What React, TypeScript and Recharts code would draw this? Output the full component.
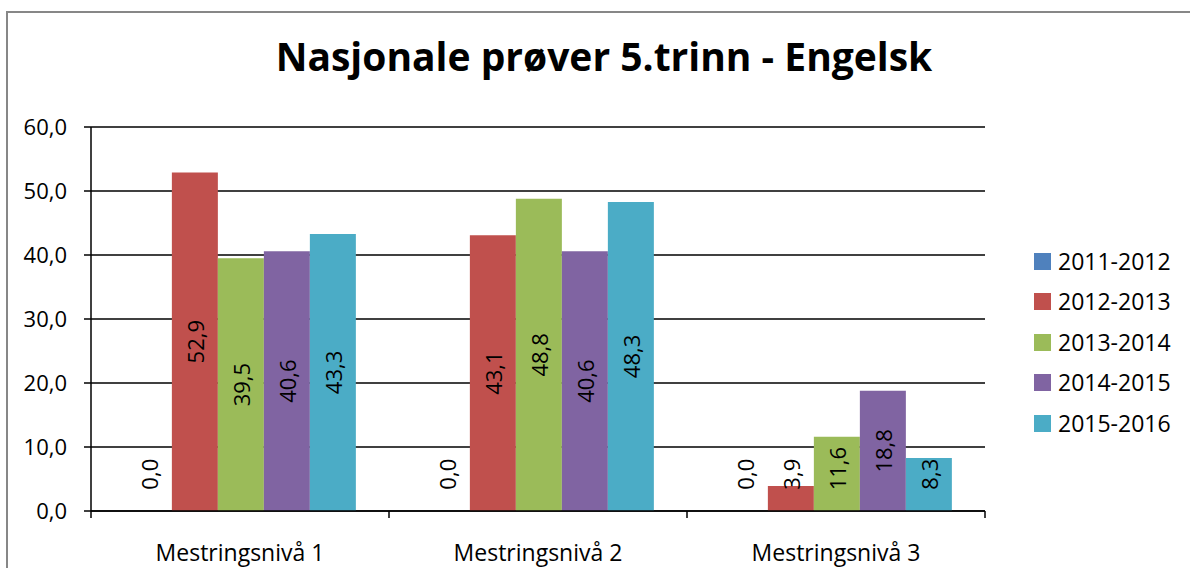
import React from "react";
import { BarChart, Bar, XAxis, YAxis, CartesianGrid, Legend, LabelList } from "recharts";

const categories = ["Mestringsnivå 1", "Mestringsnivå 2", "Mestringsnivå 3"];
const seriesNames = ["2011-2012", "2012-2013", "2013-2014", "2014-2015", "2015-2016"];
const s2011 = [0.0, 0.0, 0.0];
const s2012 = [52.9, 43.1, 3.9];
const s2013 = [39.5, 48.8, 11.6];
const s2014 = [40.6, 40.6, 18.8];
const s2015 = [43.3, 48.3, 8.3];
const yTicks = [0, 10, 20, 30, 40, 50, 60];
const colors = ["#4F81BD", "#C0504D", "#9BBB59", "#8064A2", "#4BACC6"];
const title = "Nasjonale prøver 5.trinn - Engelsk";

const seriesValues = [s2011, s2012, s2013, s2014, s2015];
const data = categories.map((c, i) => {
  const row: Record<string, string | number> = { name: c };
  seriesNames.forEach((s, k) => {
    row[s] = seriesValues[k][i];
  });
  return row;
});

const W = 1190;
const H = 568;
const PLOT_LEFT = 91;
const PLOT_RIGHT = 985;
const PLOT_TOP = 127;
const PLOT_BOTTOM = 511;
const BAND = (PLOT_RIGHT - PLOT_LEFT) / categories.length;
const FONT = "'Open Sans', 'Noto Sans', sans-serif";
const FS = 22;
const FS2 = 23;

const fmt = (v: number) => v.toFixed(1).replace(".", ",");

const BarLabel = (props: any) => {
  const { x, y, width, height, value } = props;
  const txt = fmt(Number(value));
  const half = txt.length * 5.6;
  const cx = Number(x) + Number(width) / 2;
  let cy = Number(y) + Number(height) / 2;
  const base = PLOT_BOTTOM;
  cy = Math.min(cy, base - 20 - half);
  return (
    <text
      x={cx}
      y={cy}
      textAnchor="middle"
      dominantBaseline="central"
      transform={`rotate(-90, ${cx}, ${cy})`}
      fontFamily={FONT}
      fontSize={FS}
      fill="#000"
    >
      {txt}
    </text>
  );
};

const XTick = (props: any) => {
  const { x, y, payload, index } = props;
  const left = x - BAND / 2;
  const right = x + BAND / 2;
  return (
    <g>
      <line x1={left} y1={y} x2={left} y2={y + 7} stroke="#000" strokeWidth={1.5} />
      {index === categories.length - 1 && (
        <line x1={right} y1={y} x2={right} y2={y + 7} stroke="#000" strokeWidth={1.5} />
      )}
      <text x={x} y={y + 50} textAnchor="middle" fontFamily={FONT} fontSize={FS2} fill="#000">
        {payload.value}
      </text>
    </g>
  );
};

const LegendContent = (props: any) => {
  const { payload } = props;
  return (
    <div>
      {(payload || []).map((e: any, i: number) => (
        <div key={i} style={{ display: "flex", alignItems: "center", height: 40.5 }}>
          <span style={{ width: 17, height: 17, background: e.color, marginRight: 7, display: "inline-block" }} />
          <span style={{ fontFamily: FONT, fontSize: FS2, color: "#000", lineHeight: 1 }}>{e.value}</span>
        </div>
      ))}
    </div>
  );
};

export default function App() {
  return (
    <div style={{ position: "absolute", left: 0, top: 0, width: W, height: H, overflow: "hidden", background: "#fff" }}>
      <div
        style={{
          position: "absolute",
          left: 6,
          top: 11,
          width: W + 20,
          height: H + 20,
          border: "2px solid #878787",
        }}
      />
      <div
        style={{
          position: "absolute",
          left: 0,
          width: 1208,
          top: 28,
          textAlign: "center",
          fontFamily: FONT,
          fontWeight: 700,
          fontSize: 39,
          color: "#000",
          lineHeight: "56px",
        }}
      >
        {title}
      </div>
      <div style={{ position: "absolute", left: 0, top: 0 }}>
        <BarChart
          width={W}
          height={H}
          data={data}
          margin={{ top: PLOT_TOP, right: W - PLOT_RIGHT, bottom: 0, left: 0 }}
          barCategoryGap="11.7%"
          barGap={0}
        >
          <CartesianGrid vertical={false} stroke="#000" strokeWidth={1.5} />
          <XAxis
            dataKey="name"
            height={H - PLOT_BOTTOM}
            tickLine={false}
            tickSize={0}
            tickMargin={0}
            axisLine={{ stroke: "#000", strokeWidth: 1.5 }}
            tick={<XTick />}
            interval={0}
          />
          <YAxis
            width={PLOT_LEFT}
            domain={[0, 60]}
            ticks={yTicks}
            interval={0}
            tickFormatter={fmt}
            tickSize={7}
            tickMargin={17}
            tickLine={{ stroke: "#000", strokeWidth: 1.5 }}
            axisLine={{ stroke: "#000", strokeWidth: 1.5 }}
            tick={{ fill: "#000", fontFamily: FONT, fontSize: FS }}
          />
          <Legend
            layout="vertical"
            align="center"
            verticalAlign="middle"
            content={<LegendContent />}
            wrapperStyle={{ left: 1034, top: 241, width: 156 }}
          />
          {seriesNames.map((s, k) => (
            <Bar key={s} dataKey={s} fill={colors[k]} minPointSize={0.01} isAnimationActive={false}>
              <LabelList dataKey={s} content={<BarLabel />} />
            </Bar>
          ))}
        </BarChart>
      </div>
    </div>
  );
}
